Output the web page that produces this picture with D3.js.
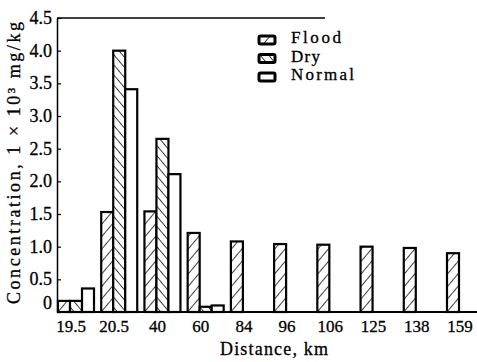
<!DOCTYPE html>
<html>
<head>
<meta charset="utf-8">
<script src="https://cdn.jsdelivr.net/npm/d3@7"></script>
<style>
  body { margin: 0; background: #fff; }
  text { font-family: "Liberation Serif", "DejaVu Serif", serif; fill: #000; stroke: #000; stroke-width: 0.3px; }
</style>
</head>
<body>
<div id="chart"></div>
<script>
const distances = ["19.5", "20.5", "40", "60", "84", "96", "106", "125", "138", "159"];
const seriesNames = ["Flood", "Dry", "Normal"];
const flood = [0.17, 1.53, 1.54, 1.21, 1.08, 1.04, 1.03, 1.0, 0.98, 0.9];
const dry = [0.17, 4.0, 2.65, 0.08, 0, 0, 0, 0, 0, 0];
const normal = [0.36, 3.41, 2.11, 0.1, 0, 0, 0, 0, 0, 0];
const yTicks = [0, 0.5, 1.0, 1.5, 2.0, 2.5, 3.0, 3.5, 4.0, 4.5];

const width = 477, height = 362;
const plotLeft = 57, plotBottom = 312, plotTop = 18;

const svg = d3.select("#chart").append("svg")
  .attr("width", width)
  .attr("height", height);

// hatch patterns
const defs = svg.append("defs");
function hatch(id, angle, gap) {
  const p = defs.append("pattern")
    .attr("id", id)
    .attr("patternUnits", "userSpaceOnUse")
    .attr("width", gap).attr("height", gap)
    .attr("patternTransform", "rotate(" + angle + ")");
  p.append("rect").attr("width", gap).attr("height", gap).attr("fill", "#fff");
  p.append("line")
    .attr("x1", 0).attr("y1", 0).attr("x2", 0).attr("y2", gap)
    .attr("stroke", "#000").attr("stroke-width", 1.5);
}
hatch("flood", 40, 8);
hatch("dry", -40, 6.5);

const fills = { Flood: "url(#flood)", Dry: "url(#dry)", Normal: "#fff" };

const table = distances.map((d, i) => ({
  dist: d,
  values: [
    { key: "Flood", v: flood[i] },
    { key: "Dry", v: dry[i] },
    { key: "Normal", v: normal[i] }
  ]
}));

const x0 = d3.scaleBand()
  .domain(distances)
  .range([58, 483])
  .paddingInner(0.167)
  .paddingOuter(0);

const x1 = d3.scaleBand()
  .domain(seriesNames)
  .range([0, x0.bandwidth()]);

const y = d3.scaleLinear()
  .domain([0, 4.5])
  .range([plotBottom, plotTop]);

// bars
const groups = svg.selectAll("g.grp")
  .data(table)
  .enter().append("g")
  .attr("class", "grp")
  .attr("transform", d => "translate(" + x0(d.dist) + ",0)");

groups.selectAll("rect")
  .data(d => d.values.filter(v => v.v > 0))
  .enter().append("rect")
  .attr("x", d => x1(d.key))
  .attr("y", d => y(d.v))
  .attr("width", x1.bandwidth())
  .attr("height", d => y(0) - y(d.v))
  .attr("fill", d => fills[d.key])
  .attr("stroke", "#000")
  .attr("stroke-width", 2.2);

// axes
const yAxis = svg.append("g")
  .attr("transform", "translate(" + plotLeft + ",0)")
  .call(d3.axisLeft(y)
    .tickValues(yTicks)
    .tickFormat(d => d === 0 ? "0" : d3.format(".1f")(d))
    .tickSizeInner(-4)
    .tickSizeOuter(0)
    .tickPadding(5));
yAxis.select(".domain").attr("stroke-width", 1.5);
yAxis.selectAll(".tick line").attr("stroke-width", 1.2);
yAxis.selectAll("text")
  .style("font-size", "18px")
  .attr("dy", d => d === 0 ? "-0.2em" : "0.3em");

const xAxis = svg.append("g")
  .attr("transform", "translate(-5," + plotBottom + ")")
  .call(d3.axisBottom(x0).tickSize(0).tickPadding(8));
xAxis.select(".domain").remove();
xAxis.selectAll("text").style("font-size", "17px");

svg.append("line")
  .attr("x1", plotLeft).attr("x2", width)
  .attr("y1", plotBottom).attr("y2", plotBottom)
  .attr("stroke", "#000").attr("stroke-width", 2);

svg.append("line")
  .attr("x1", plotLeft).attr("x2", 325)
  .attr("y1", plotTop).attr("y2", plotTop)
  .attr("stroke", "#000").attr("stroke-width", 1.5);

// axis titles
svg.append("text")
  .attr("x", 274).attr("y", 355)
  .attr("text-anchor", "middle")
  .attr("textLength", 108)
  .attr("lengthAdjust", "spacing")
  .style("font-size", "18px")
  .text("Distance,  km");

svg.append("text")
  .attr("transform", "translate(20,163) rotate(-90)")
  .attr("text-anchor", "middle")
  .attr("textLength", 282)
  .attr("lengthAdjust", "spacing")
  .style("font-size", "18px")
  .text("Concentration,  1 × 10³  mg/kg");

// legend
const legend = svg.append("g").attr("transform", "translate(259,36)");
seriesNames.forEach((s, i) => {
  const g = legend.append("g").attr("transform", "translate(0," + i * 18.5 + ")");
  g.append("rect")
    .attr("width", 16).attr("height", 8)
    .attr("rx", 1.5)
    .attr("fill", fills[s])
    .attr("stroke", "#000").attr("stroke-width", 3);
  g.append("text")
    .attr("x", 32).attr("y", 7)
    .attr("textLength", s === "Normal" ? 63 : s === "Flood" ? 50 : 29)
    .attr("lengthAdjust", "spacing")
    .style("font-size", "17px")
    .text(s);
});
</script>
</body>
</html>
